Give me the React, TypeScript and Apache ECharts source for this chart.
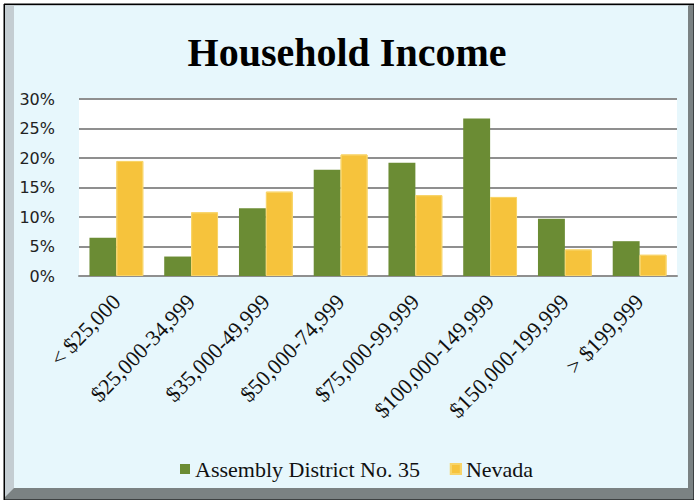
import React, { useEffect, useRef } from "react";
import * as echarts from "echarts";

const categories = [
  "< $25,000",
  "$25,000-34,999",
  "$35,000-49,999",
  "$50,000-74,999",
  "$75,000-99,999",
  "$100,000-149,999",
  "$150,000-199,999",
  "> $199,999",
];
const districtValues = [6.5, 3.3, 11.5, 18.0, 19.2, 26.7, 9.7, 5.9];
const nevadaValues = [19.5, 10.8, 14.3, 20.6, 13.7, 13.4, 4.5, 3.6];
const seriesNames = ["Assembly District No. 35", "Nevada"];
const titleText = "Household Income";

export default function App() {
  const ref = useRef<HTMLDivElement>(null);
  useEffect(() => {
    if (!ref.current) return;
    const chart = echarts.init(ref.current, null, { renderer: "svg" });
    const dots = (c: string) => ({
      symbol: "circle",
      symbolSize: 0.3,
      color: c,
      dashArrayX: [[1, 0]],
      dashArrayY: [5, 0],
      rotation: 0,
    });
    chart.setOption({
      animation: false,
      backgroundColor: "#ffffff",
      aria: { enabled: true, label: { enabled: false }, decal: { show: true } },
      graphic: [
        { type: "rect", z: -10, silent: true, shape: { x: 4, y: 4, width: 690, height: 496 }, style: { fill: "#7b8283", stroke: "#000", lineWidth: 1 } },
        { type: "polygon", z: -9, silent: true, shape: { points: [[4, 4], [690, 4], [688, 6], [14, 6], [14, 488], [4, 498]] }, style: { fill: "#c4cdd2" } },
        { type: "rect", z: -8, silent: true, shape: { x: 14, y: 6, width: 674, height: 482 }, style: { fill: "#e7f7fc" } },
        { type: "line", z: -7, silent: true, shape: { x1: 4.5, y1: 4, x2: 4.5, y2: 500 }, style: { stroke: "#000", lineWidth: 1 } },
        { type: "line", z: -7, silent: true, shape: { x1: 4, y1: 4.5, x2: 694, y2: 4.5 }, style: { stroke: "#000", lineWidth: 1 } },
      ],
      title: {
        text: titleText,
        left: "center",
        top: 27,
        textStyle: { fontFamily: "Liberation Serif", fontWeight: "bold", fontSize: 40, color: "#000" },
      },
      legend: {
        left: 175,
        top: 453,
        itemWidth: 10,
        itemHeight: 10,
        itemGap: 30,
        icon: "rect",
        textStyle: { fontFamily: "Liberation Serif", fontSize: 22, color: "#111" },
        data: seriesNames,
      },
      grid: { left: 79, right: 17, top: 99, bottom: 224, show: true, backgroundColor: "#ffffff", borderWidth: 0 },
      xAxis: {
        type: "category",
        data: categories,
        axisLine: { lineStyle: { color: "#8f8f8f", width: 2 } },
        axisTick: { show: false },
        axisLabel: {
          rotate: 46,
          margin: 22,
          interval: 0,
          fontFamily: "Liberation Serif",
          fontSize: 22,
          color: "#111",
        },
      },
      yAxis: {
        type: "value",
        min: 0,
        max: 30,
        interval: 5,
        axisLine: { show: false },
        axisTick: { show: false },
        splitLine: { lineStyle: { color: "#8f8f8f", width: 2 } },
        axisLabel: {
          formatter: "{value}%",
          margin: 24,
          fontFamily: "DejaVu Sans",
          fontSize: 16,
          color: "#222",
        },
      },
      series: [
        {
          name: seriesNames[0],
          type: "bar",
          data: districtValues,
          barGap: "0%",
          barCategoryGap: "28%",
          itemStyle: { color: "#6b8c34", decal: dots("rgba(170,80,60,0.5)") },
        },
        {
          name: seriesNames[1],
          type: "bar",
          data: nevadaValues,
          itemStyle: { color: "#f6c33c", borderColor: "#f8d468", borderWidth: 1, decal: dots("rgba(200,120,60,0.45)") },
        },
      ],
    });
    return () => chart.dispose();
  }, []);
  return (
    <div
      ref={ref}
      style={{ position: "fixed", left: 0, top: 0, width: 694, height: 500 }}
    />
  );
}
